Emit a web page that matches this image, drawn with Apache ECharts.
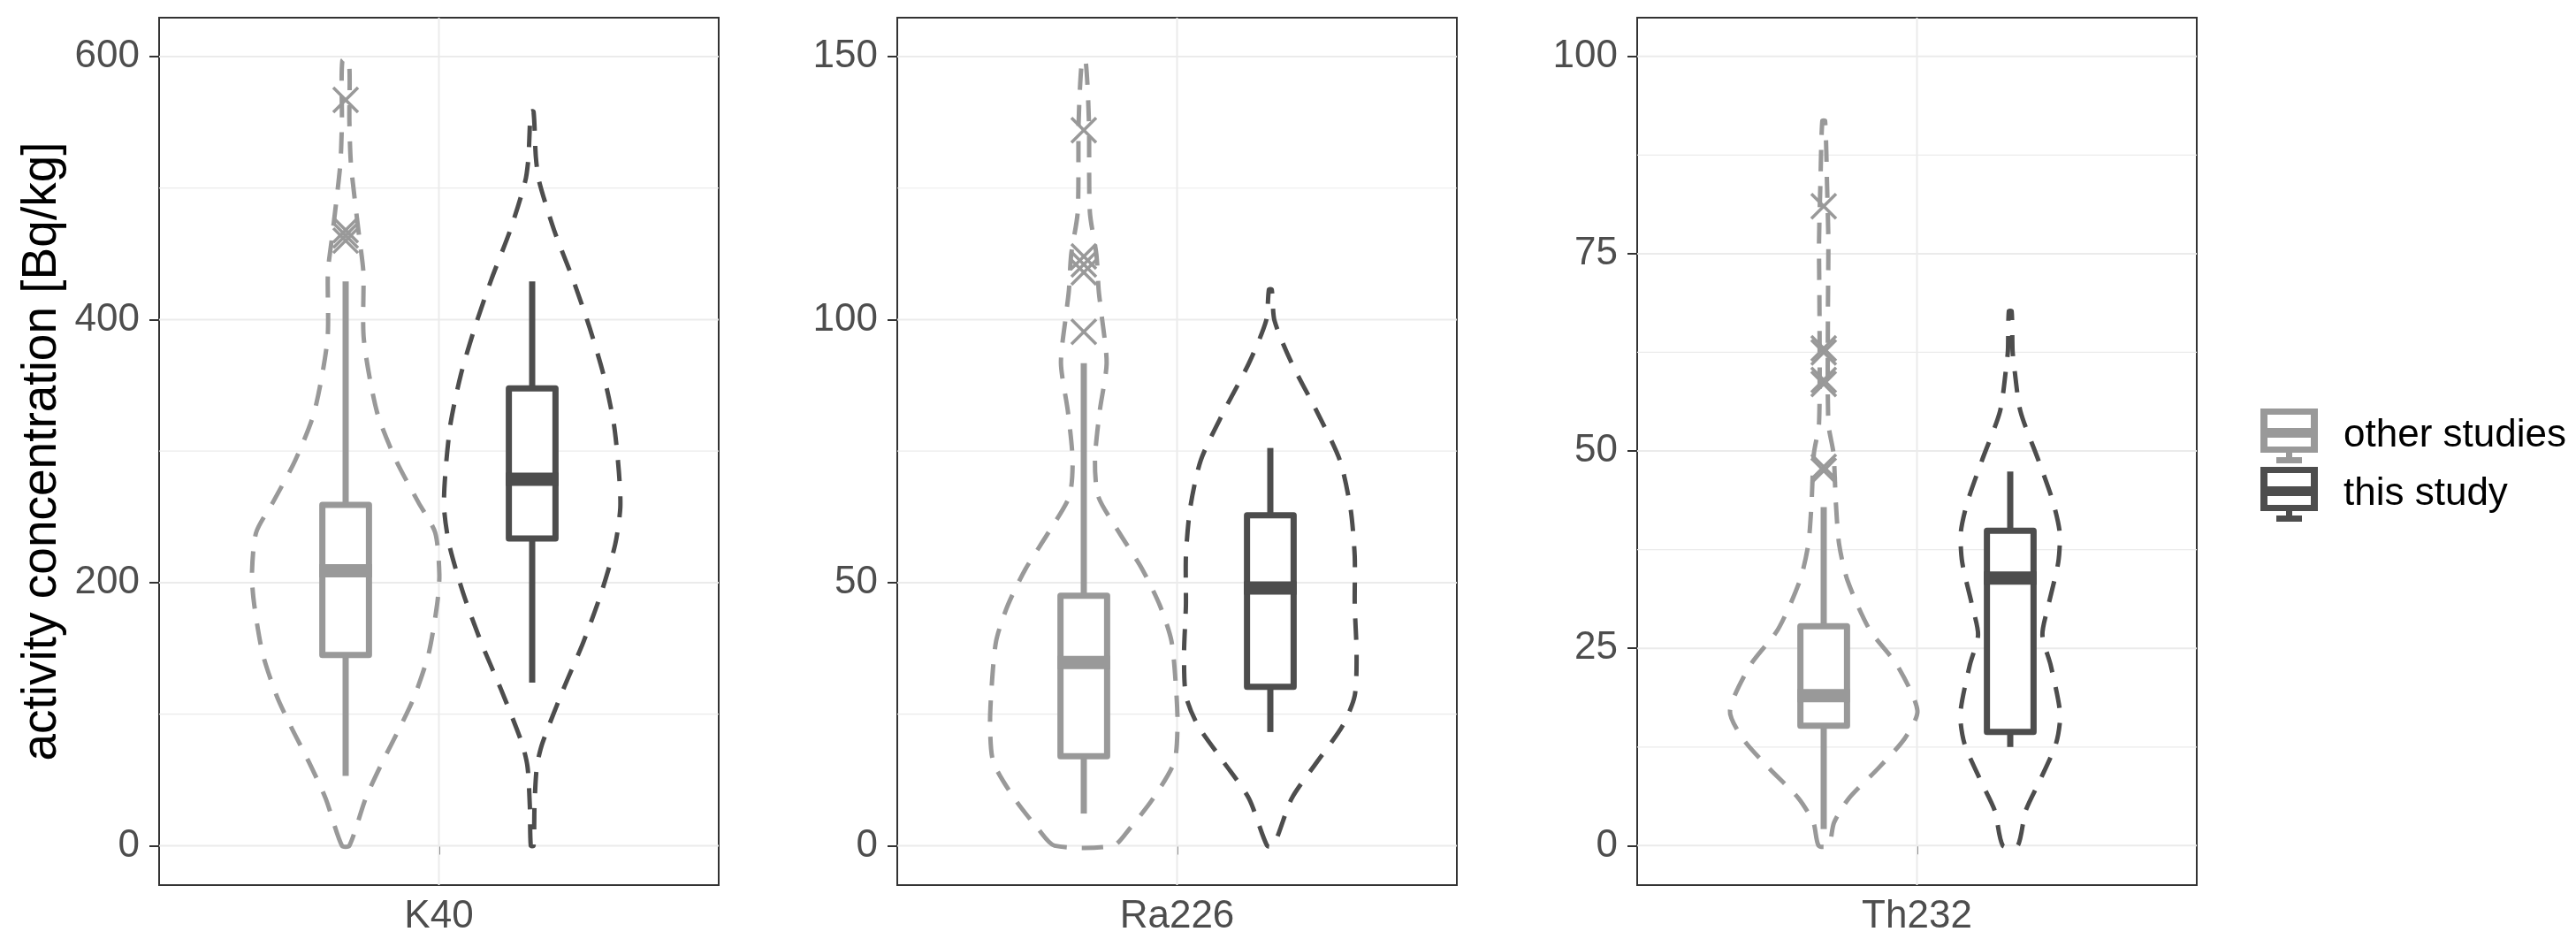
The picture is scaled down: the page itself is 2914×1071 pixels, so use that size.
<!DOCTYPE html>
<html><head><meta charset="utf-8">
<script src="https://cdn.jsdelivr.net/npm/echarts@6/dist/echarts.min.js"></script>
<style>html,body{margin:0;padding:0;background:#fff}#c{width:2914px;height:1071px}</style>
</head><body><div id="c"></div>
<script>
// ---------- data ----------
const categories = ['K40', 'Ra226', 'Th232'];
const groups = ['other studies', 'this study'];
const yTitle = 'activity concentration [Bq/kg]';

const yMajorTicks = [[0, 200, 400, 600], [0, 50, 100, 150], [0, 25, 50, 75, 100]];
const yMinorTicks = [[100, 300, 500], [25, 75, 125], [12.5, 37.5, 62.5, 87.5]];

// boxplot stats: [lower whisker, Q1, median, Q3, upper whisker]
const boxOther = [[53, 145, 209, 259, 429], [6.1, 17.0, 34.8, 47.5, 91.7], [2.1, 15.2, 19.0, 27.8, 42.9]];
const boxThis  = [[124, 233.5, 278.5, 347.6, 429], [21.6, 30.2, 49.0, 62.8, 75.6], [12.5, 14.4, 33.9, 39.9, 47.4]];

// outliers
const outliersOther = [[567, 468, 464, 460], [136, 112, 110.5, 109, 97.7], [81, 63, 62.5, 59, 58.5, 48, 47.5]];
const outliersThis  = [[], [], []];

// violin profiles: value and half-width (in category units)
const violinK40OtherY = [0, 36, 63, 91, 114, 146, 183, 206, 238, 261, 293, 330, 385, 436, 463, 493, 520, 551, 597];
const violinK40OtherW = [0.008, 0.043, 0.078, 0.118, 0.148, 0.178, 0.196, 0.201, 0.192, 0.156, 0.108, 0.067, 0.039, 0.038, 0.029, 0.019, 0.011, 0.008, 0.007];
const violinK40ThisY  = [0, 30, 60, 78, 119, 155, 192, 229, 257, 284, 321, 358, 394, 431, 468, 505, 523, 558];
const violinK40ThisW  = [0.003, 0.005, 0.010, 0.022, 0.067, 0.110, 0.148, 0.178, 0.189, 0.186, 0.175, 0.153, 0.123, 0.087, 0.047, 0.015, 0.008, 0.003];

const violinRa226OtherY = [0, 3.2, 9.0, 15.9, 22.8, 29.7, 38.9, 45.7, 52.6, 59.5, 66.4, 73.3, 82.5, 91.7, 101, 105.5, 112.4, 120.5, 137.7, 149.2];
const violinRa226OtherW = [0.063, 0.098, 0.149, 0.194, 0.201, 0.198, 0.188, 0.163, 0.125, 0.076, 0.031, 0.024, 0.034, 0.049, 0.038, 0.032, 0.027, 0.013, 0.011, 0.004];
const violinRa226ThisY  = [0, 9.0, 15.9, 22.8, 28.5, 36.6, 45.7, 55.0, 64.1, 73.3, 82.5, 91.7, 99.8, 105.7];
const violinRa226ThisW  = [0.007, 0.046, 0.100, 0.155, 0.181, 0.185, 0.181, 0.181, 0.172, 0.149, 0.100, 0.046, 0.009, 0.003];

const violinTh232OtherY = [0, 2.9, 6.0, 9.8, 13.6, 17.1, 22.8, 27.4, 33.6, 38.2, 43.5, 49.7, 53.5, 67.3, 76.5, 84.1, 91.8];
const violinTh232OtherW = [0.011, 0.022, 0.054, 0.117, 0.174, 0.201, 0.158, 0.098, 0.051, 0.033, 0.026, 0.021, 0.010, 0.009, 0.010, 0.007, 0.003];
const violinTh232ThisY  = [0, 4.4, 8.3, 12.9, 16.7, 22.8, 26.7, 30.5, 35.9, 39.7, 43.5, 48.9, 55.0, 60.4, 62.7, 67.7];
const violinTh232ThisW  = [0.016, 0.033, 0.064, 0.098, 0.107, 0.087, 0.069, 0.082, 0.103, 0.106, 0.092, 0.060, 0.022, 0.009, 0.005, 0.003];

// ---------- layout / style ----------
const FONT = 'Liberation Sans, Arial, sans-serif';
const groupColors = ['#999999', '#4d4d4d'];
const groupOffset = [-0.2, 0.2];
const panelLeft = [180, 1015, 1852];
const panelTop = 20, panelW = 633, panelH = 981;
const yRange = [[-30, 629.5], [-7.5, 157.4], [-5, 104.9]];
const BOX_HALF = 0.05;

const violins = [
  [[violinK40OtherY, violinK40OtherW], [violinK40ThisY, violinK40ThisW]],
  [[violinRa226OtherY, violinRa226OtherW], [violinRa226ThisY, violinRa226ThisW]],
  [[violinTh232OtherY, violinTh232OtherW], [violinTh232ThisY, violinTh232ThisW]]
];
const boxes = [boxOther, boxThis];
const outliers = [outliersOther, outliersThis];

const legendIcon = 'path://M0,0H65V7H0Z M0,7H8V50H0Z M57,7H65V50H57Z M8,22H57V33H8Z M0,43H65V50H0Z M29,50H36V55H29Z M18,55H47V62H18Z';

const grids = [], xAxes = [], yAxes = [], series = [];

categories.forEach((cat, i) => {
  grids.push({left: panelLeft[i], top: panelTop, width: panelW, height: panelH,
    show: true, borderColor: '#333333', borderWidth: 2, backgroundColor: '#ffffff'});
  xAxes.push({gridIndex: i, type: 'value', min: 0.4, max: 1.6,
    axisLine: {show: false}, splitLine: {show: false},
    axisTick: {show: true, customValues: [1], length: 10, lineStyle: {color: '#333333', width: 2}},
    axisLabel: {customValues: [1], formatter: () => cat, fontSize: 44, color: '#4d4d4d', fontFamily: FONT, margin: 14}
  });
  const ya = {gridIndex: i, type: 'value', min: yRange[i][0], max: yRange[i][1],
    axisLine: {show: false}, splitLine: {show: false},
    axisTick: {show: true, customValues: yMajorTicks[i], length: 11, lineStyle: {color: '#333333', width: 2}},
    axisLabel: {customValues: yMajorTicks[i], fontSize: 44, color: '#4d4d4d', fontFamily: FONT, margin: 22}
  };
  if (i === 0) {
    Object.assign(ya, {name: yTitle, nameLocation: 'middle', nameGap: 105, nameRotate: 90,
      nameTextStyle: {fontSize: 55, color: '#000000', fontFamily: FONT}});
  }
  yAxes.push(ya);

  // grid lines
  const gl = yMajorTicks[i].map(v => ['h', v, 1]).concat(yMinorTicks[i].map(v => ['h', v, 0])).concat([['v', 1, 1]]);
  series.push({type: 'custom', xAxisIndex: i, yAxisIndex: i, silent: true, z: 1,
    data: gl.map(d => [d[0] === 'h' ? 1 : d[1], d[0] === 'h' ? d[1] : 0]),
    renderItem: (params, api) => {
      const d = gl[params.dataIndex];
      let p1, p2;
      if (d[0] === 'h') { p1 = api.coord([0.4, d[1]]); p2 = api.coord([1.6, d[1]]); }
      else { p1 = api.coord([d[1], yRange[i][0]]); p2 = api.coord([d[1], yRange[i][1]]); }
      return {type: 'line', shape: {x1: p1[0], y1: p1[1], x2: p2[0], y2: p2[1]},
        style: {stroke: '#ebebeb', lineWidth: d[2] ? 2 : 1.2}};
    }
  });

  groups.forEach((g, k) => {
    const cx = 1 + groupOffset[k];
    const col = groupColors[k];
    const [vy, vw] = violins[i][k];
    // violin
    series.push({type: 'custom', name: g, xAxisIndex: i, yAxisIndex: i, silent: true, z: 3,
      itemStyle: {color: col},
      data: [[cx, 0]],
      renderItem: (params, api) => {
        const left = [], right = [];
        for (let j = 0; j < vy.length; j++) {
          left.push(api.coord([cx - vw[j], vy[j]]));
          right.push(api.coord([cx + vw[j], vy[j]]));
        }
        const pts = left.concat(right.reverse());
        return {type: 'polygon', shape: {points: pts, smooth: 0.25},
          style: {fill: 'none', stroke: col, lineWidth: 5, lineDash: [24, 17]}};
      }
    });
    // boxplot
    const b = boxes[k][i];
    series.push({type: 'custom', name: g, xAxisIndex: i, yAxisIndex: i, silent: true, z: 4,
      itemStyle: {color: col},
      data: [[cx, b[2]]],
      renderItem: (params, api) => {
        const pLow = api.coord([cx, b[0]]), pQ1 = api.coord([cx, b[1]]);
        const pQ3 = api.coord([cx, b[3]]), pHigh = api.coord([cx, b[4]]);
        const pL = api.coord([cx - BOX_HALF, b[2]]), pR = api.coord([cx + BOX_HALF, b[2]]);
        const tl = api.coord([cx - BOX_HALF, b[3]]), br = api.coord([cx + BOX_HALF, b[1]]);
        return {type: 'group', children: [
          {type: 'line', shape: {x1: pQ3[0], y1: pQ3[1], x2: pHigh[0], y2: pHigh[1]}, style: {stroke: col, lineWidth: 7}},
          {type: 'line', shape: {x1: pQ1[0], y1: pQ1[1], x2: pLow[0], y2: pLow[1]}, style: {stroke: col, lineWidth: 7}},
          {type: 'rect', shape: {x: tl[0], y: tl[1], width: br[0] - tl[0], height: br[1] - tl[1]},
            style: {fill: '#ffffff', stroke: col, lineWidth: 7, lineJoin: 'round'}},
          {type: 'line', shape: {x1: pL[0] - 3.5, y1: pL[1], x2: pR[0] + 3.5, y2: pR[1]}, style: {stroke: col, lineWidth: 15}}
        ]};
      }
    });
    // outliers
    const outs = outliers[k][i];
    if (outs.length) {
      series.push({type: 'custom', name: g, xAxisIndex: i, yAxisIndex: i, silent: true, z: 5,
        itemStyle: {color: col},
        data: outs.map(v => [cx, v]),
        renderItem: (params, api) => {
          const p = api.coord([api.value(0), api.value(1)]);
          const s = 14;
          return {type: 'group', children: [
            {type: 'line', shape: {x1: p[0] - s, y1: p[1] - s, x2: p[0] + s, y2: p[1] + s}, style: {stroke: col, lineWidth: 3.5}},
            {type: 'line', shape: {x1: p[0] - s, y1: p[1] + s, x2: p[0] + s, y2: p[1] - s}, style: {stroke: col, lineWidth: 3.5}}
          ]};
        }
      });
    }
  });
});

const chart = echarts.init(document.getElementById('c'), null, {renderer: 'canvas'});
chart.setOption({
  animation: false,
  backgroundColor: '#ffffff',
  grid: grids, xAxis: xAxes, yAxis: yAxes, series: series,
  legend: {orient: 'vertical', left: 2552, top: 457, itemWidth: 65, itemHeight: 62, itemGap: 4,
    selectedMode: false,
    textStyle: {fontSize: 44, color: '#000000', fontFamily: FONT, padding: [0, 0, 0, 24]},
    data: groups.map((g, k) => ({name: g, icon: legendIcon, itemStyle: {color: groupColors[k]}}))
  }
});
</script></body></html>
